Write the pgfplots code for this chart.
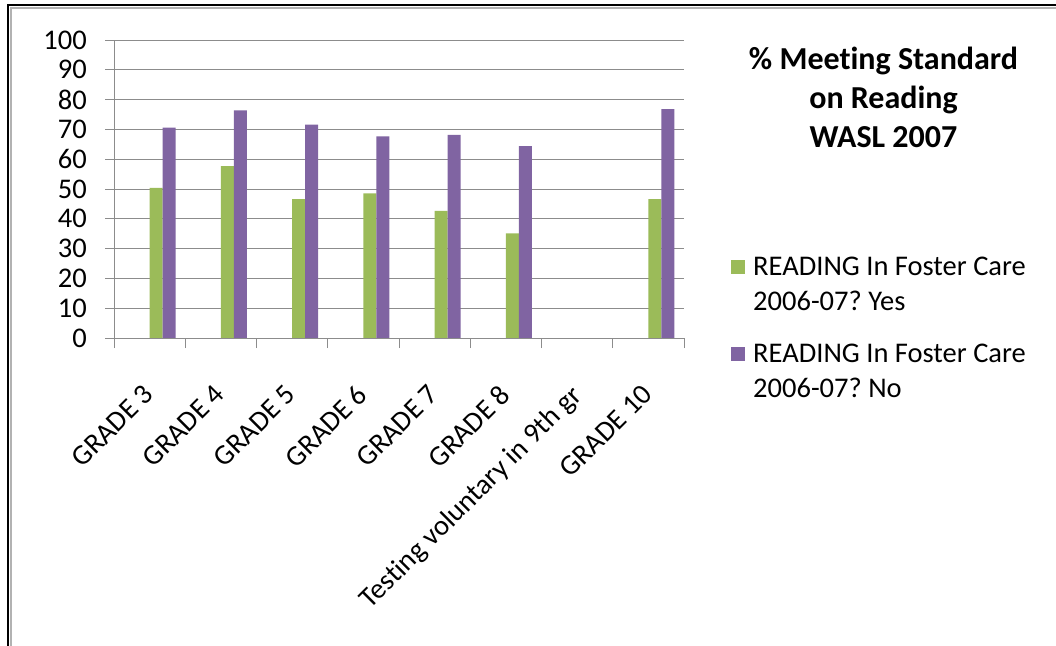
\documentclass[border=0pt]{standalone}
\usepackage{pgfplots}
\pgfplotsset{compat=1.18}
\usepackage{fontspec}
\setmainfont{Carlito}[Ligatures=NoCommon]
\frenchspacing

\definecolor{xlgreen}{HTML}{9BBB59}
\definecolor{xlpurple}{HTML}{8064A2}
\definecolor{gridgray}{HTML}{8C8C8C}

\newcommand{\lbl}{\fontsize{28.5bp}{35bp}\selectfont}

\begin{document}
\begin{tikzpicture}
\useasboundingbox (0,0) rectangle (1056bp,646bp);
% outer frame (only left and top edges are visible)
\draw[black, line width=2.5bp] (8bp,0) -- (8bp,641bp) -- (1056bp,641bp);
\draw[gray!60, line width=1.5bp] (11bp,0) -- (11bp,638bp) -- (1056bp,638bp);

\begin{axis}[
    at={(114bp,308bp)}, anchor=south west,
    scale only axis,
    width=570bp, height=298bp,
    xmin=-0.5, xmax=7.5,
    ymin=0, ymax=100,
    ytick={0,10,...,100},
    xtick={0,...,7},
    xticklabels={GRADE 3,GRADE 4,GRADE 5,GRADE 6,GRADE 7,GRADE 8,Testing voluntary in 9th gr,GRADE 10},
    minor xtick={-0.5,0.5,...,7.5},
    major x tick style={draw=none},
    tick align=outside,
    major tick length=9bp,
    minor tick length=10bp,
    tick style={gridgray, line width=0.8bp},
    axis x line*=bottom,
    axis y line*=left,
    axis line style={gridgray, line width=0.8bp, -},
    ymajorgrids,
    grid style={gridgray, line width=0.8bp},
    /pgf/number format/assume math mode=true,
    yticklabel style={font=\lbl, anchor=east, inner sep=0pt, xshift=-18bp},
    xticklabel style={font=\lbl, xshift=-8bp, yshift=-36bp, rotate=45, anchor=north east, inner sep=0pt},
    ybar,
    bar width=0.182,
    legend style={at={(1.0825,0.2785)}, anchor=north west, draw=none, fill=none,
        inner sep=0pt, font=\lbl, row sep=28bp, column sep=6bp,
        cells={anchor=west, align=left}},
    legend image code/.code={\fill[#1] (0bp,11bp) rectangle (14bp,25bp);},
]
\addplot[fill=xlgreen, draw=none, bar shift=0.091] coordinates {
    (0,50.4) (1,57.7) (2,46.6) (3,48.5) (4,42.7) (5,35.1) (7,46.6)
};
\addplot[fill=xlpurple, draw=none, bar shift=0.273] coordinates {
    (0,70.6) (1,76.4) (2,71.6) (3,67.7) (4,68.2) (5,64.4) (7,76.8)
};
\legend{READING In Foster Care\\2006-07? Yes, READING In Foster Care\\2006-07? No}
\end{axis}

\node[anchor=north, align=center, inner sep=0pt,
      font=\bfseries\fontsize{32bp}{39bp}\selectfont] at (883.5bp,599bp)
      {\% Meeting Standard\\on Reading\\WASL 2007};
\end{tikzpicture}
\end{document}
